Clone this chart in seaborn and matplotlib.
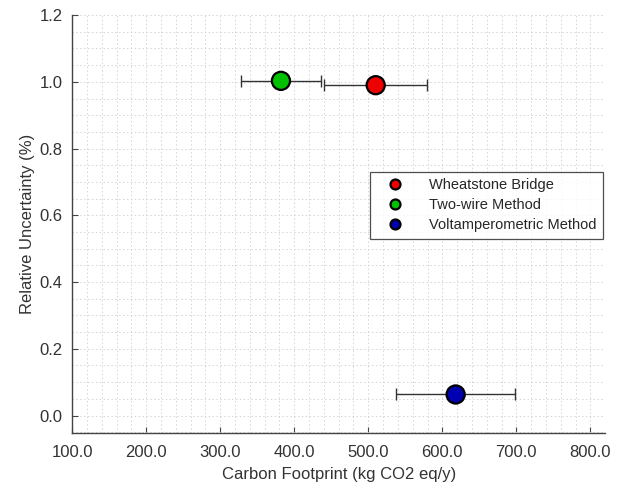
import matplotlib
matplotlib.use("Agg")
import matplotlib.pyplot as plt
from matplotlib.ticker import MultipleLocator, FormatStrFormatter
import seaborn as sns
import pandas as pd

methods = ["Wheatstone Bridge", "Two-wire Method", "Voltamperometric Method"]
carbon = [510.0, 382.0, 618.0]
carbon_err = [69.5, 54.0, 80.0]
uncertainty = [0.99, 1.003, 0.063]
colors = ["#EE0000", "#00C000", "#0000B0"]

df = pd.DataFrame({"Method": methods, "Carbon": carbon, "Err": carbon_err,
                   "Unc": uncertainty})

sns.set_style("white")
plt.rcParams['font.family'] = ['Liberation Sans', 'DejaVu Sans']

fig = plt.figure(figsize=(6.22, 4.88), dpi=100)
ax = fig.add_axes([0.116, 0.113, 0.857, 0.856])

ax.errorbar(df["Carbon"], df["Unc"], xerr=df["Err"], fmt="none",
            ecolor="#333333", elinewidth=1.0, capsize=4, capthick=1.0, zorder=2)
sns.scatterplot(data=df, x="Carbon", y="Unc", hue="Method", palette=colors,
                hue_order=methods, s=170, edgecolor="black", linewidth=1.6,
                ax=ax, zorder=3, legend=True)

ax.set_xlim(100, 820)
ax.set_ylim(-0.052, 1.2)
ax.xaxis.set_major_locator(MultipleLocator(100))
ax.xaxis.set_minor_locator(MultipleLocator(20))
ax.yaxis.set_major_locator(MultipleLocator(0.2))
ax.yaxis.set_minor_locator(MultipleLocator(0.05))
ax.xaxis.set_major_formatter(FormatStrFormatter("%.1f"))
ax.yaxis.set_major_formatter(FormatStrFormatter("%.1f"))
ax.grid(which="both", linestyle=(0, (1.5, 2.5)), color="#d4d4d4", linewidth=0.7)
ax.set_axisbelow(True)

for s in ["top", "right"]:
    ax.spines[s].set_visible(False)
for s in ["left", "bottom"]:
    ax.spines[s].set_color("#444444")
    ax.spines[s].set_linewidth(1.0)
ax.tick_params(which="major", direction="in", length=4, width=0.8,
               colors="#444444", labelcolor="#333333", labelsize=12,
               left=True, bottom=True)
ax.tick_params(axis="x", which="major", pad=9)
ax.tick_params(axis="y", which="major", pad=7)
ax.tick_params(which="minor", length=0)

ax.set_xlabel("Carbon Footprint (kg CO2 eq/y)", fontsize=12, color="#333333",
              labelpad=5)
ax.set_ylabel("Relative Uncertainty (%)", fontsize=12, color="#333333",
              labelpad=3)

leg = ax.legend(loc="upper left", bbox_to_anchor=(0.558, 0.625), frameon=True,
                fancybox=False, edgecolor="#222222", fontsize=10.5,
                handletextpad=1.0, borderpad=0.45, labelspacing=0.4,
                handlelength=2.6, markerscale=0.55, borderaxespad=0)
leg.get_frame().set_linewidth(0.9)
for h in leg.legend_handles:
    if hasattr(h, "set_markeredgecolor"):
        h.set_markeredgecolor("black")
        h.set_markeredgewidth(1.6)
    else:
        h.set_edgecolor("black")

fig.savefig("out.png", dpi=100)
